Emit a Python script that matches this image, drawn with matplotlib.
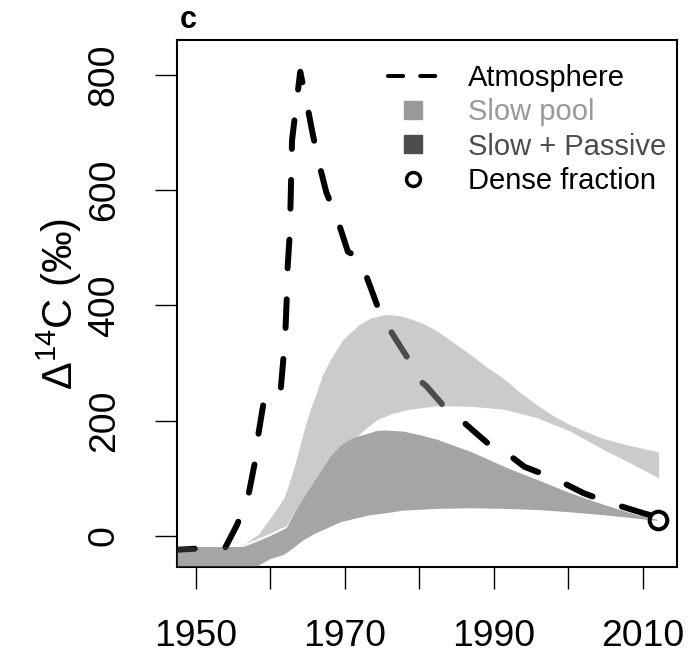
import numpy as np
import matplotlib
matplotlib.use('Agg')
import matplotlib.pyplot as plt
from matplotlib.lines import Line2D

plt.rcParams['font.family'] = ['Liberation Sans', 'DejaVu Sans']
plt.rcParams['mathtext.fontset'] = 'custom'
plt.rcParams['mathtext.rm'] = 'Liberation Sans'
plt.rcParams['mathtext.it'] = 'Liberation Sans:italic'
plt.rcParams['mathtext.bf'] = 'Liberation Sans:bold'


# atmospheric 14C record
atm_year = [1946.0, 1950.0, 1953.0, 1953.9, 1955.5, 1957.0, 1957.9, 1958.4, 1959.1,
            1960.2, 1961.3, 1961.7, 1962.0, 1962.2, 1962.3, 1962.6, 1962.7, 1962.8,
            1962.9, 1963.4, 1964.0, 1964.8, 1965.6, 1966.5, 1967.5, 1969.1, 1970.4,
            1971.9, 1972.9, 1974.3, 1976.3, 1978.6, 1979.9, 1981.0, 1983.7, 1985.1,
            1987.1, 1990.5, 1992.3, 1994.1, 1998.1, 2002.1, 2005.7, 2010.2, 2012.0]
atm_d14c = [-25, -22, -21, -21, 19, 68, 127, 178, 233,
            232, 242, 302, 352, 415, 464, 525, 577, 631,
            686, 741, 805, 756, 702, 647, 596, 545, 493,
            482, 450, 401, 352, 305, 271, 259, 219, 207,
            184, 146, 138, 120, 100, 74, 57, 39, 33]

# slow pool range
slow_hi_year = [1955.8, 1956.4, 1958.5, 1960.0, 1961.0, 1961.8, 1962.3, 1963.1, 1963.8,
                1964.5, 1965.4, 1966.3, 1967.1, 1968.1, 1969.8, 1970.8, 1972.0, 1973.5,
                1975.0, 1976.1, 1977.5, 1978.8, 1980.5, 1982.4, 1984.5, 1986.9, 1989.0,
                1991.4, 1993.5, 1995.9, 1998.0, 2000.3, 2002.5, 2004.8, 2008.0, 2012.2]
slow_hi = [-18, -16, 3, 30, 48, 64, 80, 112, 145,
           180, 218, 250, 280, 305, 340, 352, 366, 377,
           382, 383, 381, 376, 368, 355, 336, 314, 293,
           272, 249, 226, 208, 192, 180, 168, 157, 145]
slow_lo_year = [1955.8, 1956.4, 1958.2, 1960.0, 1961.3, 1962.2, 1963.6, 1965.4, 1966.8,
                1968.1, 1969.5, 1970.7, 1971.7, 1973.0, 1974.4, 1976.5, 1978.8, 1982.4,
                1986.9, 1991.4, 1995.9, 2000.3, 2004.8, 2008.5, 2012.2]
slow_lo = [-18, -15, -6, 4, 12, 17, 48, 85, 112,
           138, 157, 167, 172, 187, 201, 212, 219, 225,
           224, 219, 204, 181, 149, 125, 100]

# slow + passive range
sp_hi_year = [1946.0, 1956.4, 1958.2, 1960.0, 1961.3, 1962.2, 1963.6, 1965.4, 1966.8,
              1968.1, 1969.5, 1970.7, 1971.7, 1974.3, 1975.3, 1977.9, 1980.0, 1982.4,
              1984.5, 1986.9, 1989.0, 1991.4, 1993.5, 1995.9, 1998.0, 2000.3, 2002.5,
              2004.8, 2007.0, 2009.3, 2012.0]
sp_hi = [-19, -19, -10, 0, 8, 14, 48, 85, 112,
         138, 157, 167, 172, 182, 183, 181, 175, 167,
         157, 146, 134, 120, 109, 97, 86, 74, 64,
         54, 45, 36, 28]
sp_lo_year = [1946.0, 1955.0, 1958.2, 1960.0, 1961.8, 1963.0, 1964.5, 1966.0, 1968.1,
              1969.5, 1971.7, 1973.4, 1975.3, 1977.9, 1982.4, 1986.9, 1991.4, 1995.9,
              2000.3, 2004.8, 2008.5, 2012.0]
sp_lo = [-80, -72, -53, -40, -33, -22, -7, 4, 16,
         24, 31, 36, 39, 44, 47, 48, 47, 45,
         41, 36, 31, 26]

# dense fraction measurement
dense_year = [2012.1]
dense_d14c = [28]

labels = ['Atmosphere', 'Slow pool', 'Slow + Passive', 'Dense fraction']
slow_col = '#999999'
sp_col = '#4d4d4d'


fig = plt.figure(figsize=(6.88, 6.56), dpi=100)
ax = fig.add_axes([177 / 688, 89 / 656, 500 / 688, 527 / 656])

ax.plot(atm_year, atm_d14c, color='black', lw=4.3, dashes=(4.8, 5.2),
        dash_capstyle='round', solid_capstyle='round', zorder=1)

# shaded envelopes drawn over the line, half transparent
ax.fill(np.concatenate([slow_hi_year, slow_lo_year[::-1]]),
        np.concatenate([slow_hi, slow_lo[::-1]]),
        color=slow_col, alpha=0.5, lw=0, zorder=2)
ax.fill(np.concatenate([sp_hi_year, sp_lo_year[::-1]]),
        np.concatenate([sp_hi, sp_lo[::-1]]),
        color=sp_col, alpha=0.5, lw=0, zorder=3)

ax.plot(dense_year, dense_d14c, 'o', mfc='none', mec='black', ms=12.7, mew=2.9, zorder=4)

ax.set_xlim(1947.45, 2014.6)
ax.set_ylim(-53.8, 860)

ax.set_xticks(range(1950, 2011, 10))
ax.set_xticklabels(['1950', '', '1970', '', '1990', '', '2010'])
ax.set_yticks(range(0, 801, 200))
ax.set_yticklabels(['0', '200', '400', '600', '800'], rotation=90, va='center')

ax.tick_params(axis='both', direction='out', length=15.8, width=1.0, labelsize=26.8)
ax.tick_params(axis='x', pad=22)
ax.tick_params(axis='y', pad=24)
for s in ax.spines.values():
    s.set_linewidth(1.5)

ax.set_ylabel('Δ$^{14}$C (‰)', fontsize=30, labelpad=2)

ax.text(0.006, 1.023, 'c', transform=ax.transAxes, fontsize=22, fontweight='bold',
        ha='left', va='baseline')

handles = [
    Line2D([], [], color='black', lw=2.9, dashes=(3.75, 4.25), dash_capstyle='round'),
    Line2D([], [], marker='s', ls='none', color=slow_col, ms=13),
    Line2D([], [], marker='s', ls='none', color=sp_col, ms=13),
    Line2D([], [], marker='o', ls='none', mfc='none', mec='black', ms=10, mew=2.5),
]
ax.legend(handles, labels, loc='upper left', bbox_to_anchor=(0.422, 0.955),
          frameon=False, fontsize=21, handlelength=1.68, handletextpad=1.07,
          labelspacing=0.22, borderpad=0, borderaxespad=0,
          labelcolor=['black', slow_col, sp_col, 'black'])

fig.savefig('out.png', dpi=100)
